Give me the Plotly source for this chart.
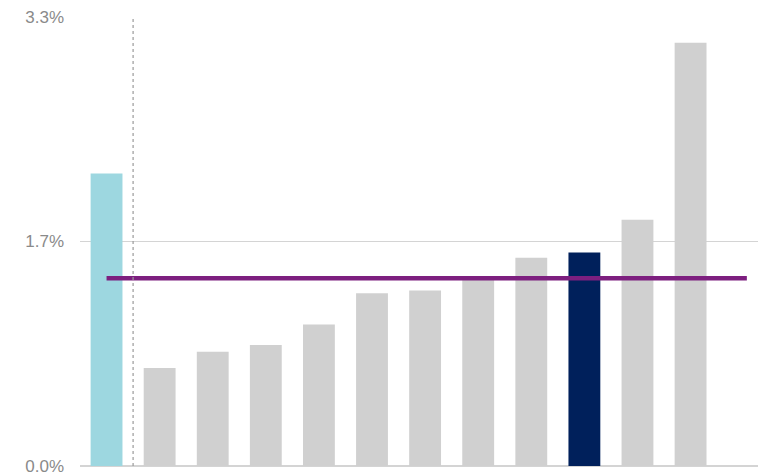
import plotly.graph_objects as go

# Bar values (%), in display order
positions = list(range(12))
values = [2.15, 0.72, 0.84, 0.89, 1.04, 1.27, 1.29, 1.37, 1.53, 1.57, 1.81, 3.11]
average = 1.38

# Tick labels for the value axis
tick_vals = [0, 1.65, 3.3]
tick_text = ["0.0%", "1.7%", "3.3%"]

GREY = "#d0d0d0"
colors = [GREY] * len(values)
colors[0] = "#9dd7e0"
colors[9] = "#00205b"

fig = go.Figure()

fig.add_trace(go.Bar(
    x=positions,
    y=values,
    width=0.6,
    marker=dict(color=colors, line=dict(width=0)),
    hoverinfo="y",
))

# Average reference line
fig.add_trace(go.Scatter(
    x=[positions[0], 12.06],
    y=[average, average],
    mode="lines",
    line=dict(color="#7d1f7f", width=4.5),
    hoverinfo="skip",
))

# Dotted separator after the first bar
fig.add_shape(
    type="line", xref="x", yref="paper",
    x0=0.5, x1=0.5, y0=0, y1=1,
    line=dict(color="#9a9a9a", width=1.2, dash="dot"),
    layer="above",
)

fig.update_layout(
    width=758, height=475,
    margin=dict(l=80, r=0, t=17, b=9),
    paper_bgcolor="white",
    plot_bgcolor="white",
    showlegend=False,
    font=dict(family="Liberation Sans, Arial, sans-serif", color="#8a8a8a", size=17),
    xaxis=dict(
        range=[-0.5, 12.27],
        showticklabels=False,
        showgrid=False,
        zeroline=False,
        showline=False,
        ticks="",
        fixedrange=True,
    ),
    yaxis=dict(
        range=[0, 3.3],
        tickvals=tick_vals,
        ticktext=tick_text,
        showgrid=True,
        gridcolor="#d4d4d4",
        gridwidth=1,
        zeroline=True,
        zerolinecolor="#d4d4d4",
        zerolinewidth=2,
        showline=False,
        ticks="",
        ticklabelstandoff=15,
        ticklabeloverflow="allow",
        fixedrange=True,
    ),
)

fig.write_html("out.html")
